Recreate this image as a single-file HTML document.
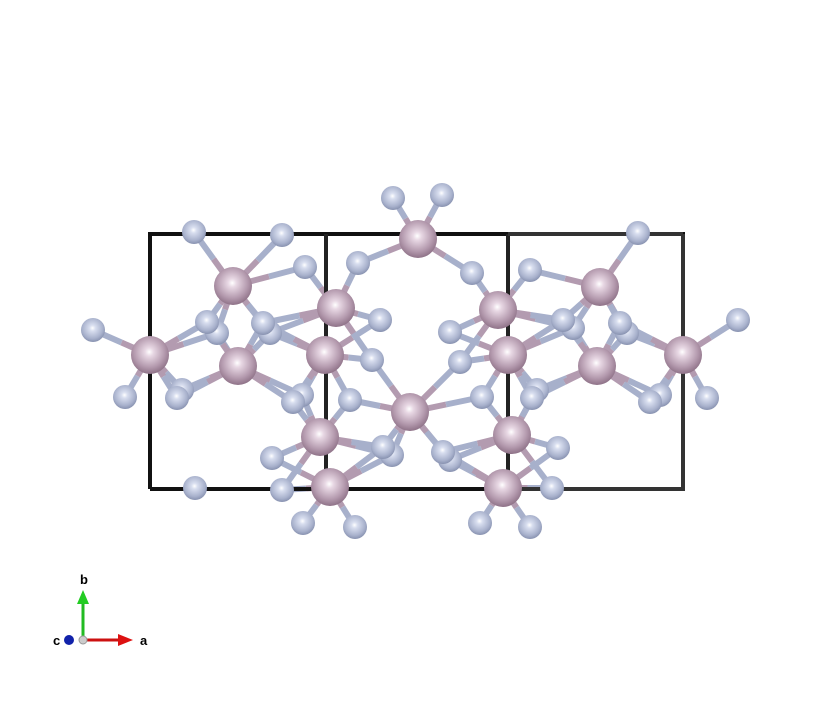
<!DOCTYPE html>
<html><head><meta charset="utf-8"><style>
html,body{margin:0;padding:0;background:#fff;width:834px;height:724px;overflow:hidden}
svg{display:block}
</style></head><body>
<svg id="s" width="834" height="724">
<defs>
<radialGradient id="gp" cx="0.48" cy="0.42" r="0.62" fx="0.48" fy="0.42">
<stop offset="0" stop-color="#ffffff"/><stop offset="0.18" stop-color="#e8d8e4"/><stop offset="0.65" stop-color="#b49aae"/><stop offset="1" stop-color="#86697f"/></radialGradient>
<radialGradient id="gb" cx="0.48" cy="0.42" r="0.62" fx="0.48" fy="0.42">
<stop offset="0" stop-color="#ffffff"/><stop offset="0.2" stop-color="#d8deef"/><stop offset="0.7" stop-color="#a8b1cc"/><stop offset="1" stop-color="#7f89a8"/></radialGradient>
</defs>
<g id="bonds"></g>
<g id="box" fill="none" stroke-width="4">
<polyline points="150,489 150,234 683,234 683,489 150,489" stroke="#111"/>
<line x1="326" y1="234" x2="326" y2="489" stroke="#222"/>
<line x1="508" y1="234" x2="508" y2="489" stroke="#222"/>
<line x1="508" y1="234" x2="683" y2="234" stroke="#333"/>
<polyline points="683,234 683,489 508,489" stroke="#333"/>
</g>
<g id="atoms"></g>
<g>
<line x1="83" y1="640" x2="83" y2="602" stroke="#22bb22" stroke-width="3"/>
<polygon points="77,604 89,604 83,590" fill="#22cc22"/>
<line x1="83" y1="640" x2="120" y2="640" stroke="#cc1111" stroke-width="3"/>
<polygon points="118,634 118,646 133,640" fill="#dd1111"/>
<circle cx="69" cy="640" r="5" fill="#1122aa"/>
<circle cx="83" cy="640" r="4" fill="#ccc" stroke="#999"/>
<text x="80" y="584" font-family="Liberation Sans, sans-serif" font-size="13" font-weight="bold">b</text>
<text x="140" y="645" font-family="Liberation Sans, sans-serif" font-size="13" font-weight="bold">a</text>
<text x="53" y="645" font-family="Liberation Sans, sans-serif" font-size="13" font-weight="bold">c</text>
</g>
</svg>
<script>
const bigX=[233,150,238,336,325,418,410,320,330,498,508,512,503,600,597,683];
const bigY=[286,355,366,308,355,239,412,437,487,310,355,435,488,287,366,355];
const smallX=[194,282,305,358,393,217,207,270,263,380,93,125,182,177,302,293,372,350,392,383,272,282,195,303,355,442,472,530,638,450,460,573,563,627,620,738,482,537,532,660,650,707,450,443,558,552,480,530];
const smallY=[232,235,267,263,198,333,322,333,323,320,330,397,390,398,395,402,360,400,455,447,458,490,488,523,527,195,273,270,233,332,362,328,320,333,323,320,397,390,398,395,402,398,460,452,448,488,523,527];
const NS='http://www.w3.org/2000/svg';
const bonds=document.getElementById('bonds'), atoms=document.getElementById('atoms');
for(let i=0;i<bigX.length;i++)for(let j=0;j<smallX.length;j++){
 const dx=smallX[j]-bigX[i],dy=smallY[j]-bigY[i],d=Math.hypot(dx,dy);
 if(d<78){
  const mx=bigX[i]+dx/2,my=bigY[i]+dy/2;
  const l1=document.createElementNS(NS,'line');
  
  
  l1.setAttribute('x1',bigX[i]);l1.setAttribute('y1',bigY[i]);l1.setAttribute('x2',mx);l1.setAttribute('y2',my);
  l1.setAttribute('stroke','#b39bb0');l1.setAttribute('stroke-width','6');bonds.appendChild(l1);
  const l2=document.createElementNS(NS,'line');
  
  
  l2.setAttribute('x1',mx);l2.setAttribute('y1',my);l2.setAttribute('x2',smallX[j]);l2.setAttribute('y2',smallY[j]);
  l2.setAttribute('stroke','#a7b0cb');l2.setAttribute('stroke-width','6');bonds.appendChild(l2);
 }
}
for(let j=0;j<smallX.length;j++){
 const c=document.createElementNS(NS,'circle');
 
 
 c.setAttribute('cx',smallX[j]);c.setAttribute('cy',smallY[j]);c.setAttribute('r',12);c.setAttribute('fill','url(#gb)');
 atoms.appendChild(c);
}
for(let i=0;i<bigX.length;i++){
 const c=document.createElementNS(NS,'circle');
 
 
 c.setAttribute('cx',bigX[i]);c.setAttribute('cy',bigY[i]);c.setAttribute('r',19);c.setAttribute('fill','url(#gp)');
 atoms.appendChild(c);
}
</script>
</body></html>
